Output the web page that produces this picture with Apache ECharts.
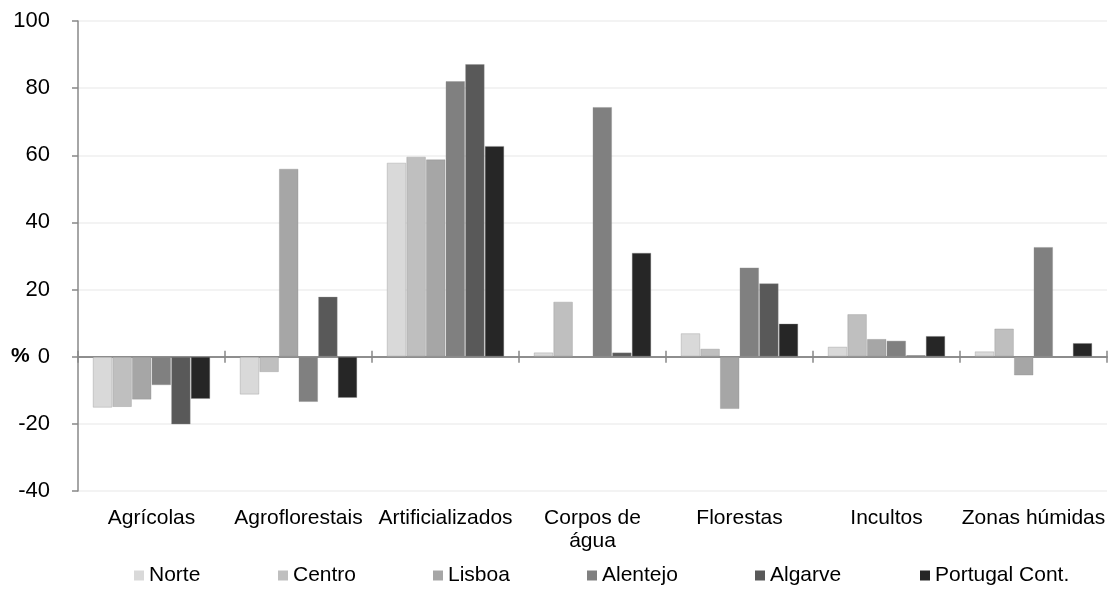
<!DOCTYPE html>
<html><head><meta charset="utf-8">
<script src="https://cdn.jsdelivr.net/npm/echarts@6/dist/echarts.min.js"></script>
<style>html,body{margin:0;padding:0;background:#fff}#c{width:1113px;height:594px}</style>
</head><body><div id="c"></div>
<script>
const categories = ['Agrícolas','Agroflorestais','Artificializados','Corpos de\nágua','Florestas','Incultos','Zonas húmidas'];
const seriesNames = ['Norte','Centro','Lisboa','Alentejo','Algarve','Portugal Cont.'];
const norte    = [-15.2, -11.3, 57.8,  1.3,   7.0, 3.0,  1.6];
const centro   = [-15.0,  -4.6, 59.6, 16.4,   2.4, 12.7, 8.4];
const lisboa   = [-12.8,  56.0, 58.8,  0.0, -15.6, 5.3, -5.6];
const alentejo = [ -8.5, -13.5, 82.1, 74.4,  26.6, 4.8, 32.7];
const algarve  = [-20.2,  17.9, 87.2,  1.3,  21.9, 0.5, -0.3];
const portugal = [-12.6, -12.3, 62.8, 31.0,   9.9, 6.2,  4.1];
const yTicks = [-40,-20,0,20,40,60,80,100];

const seriesData = [norte, centro, lisboa, alentejo, algarve, portugal];
const colors = ['#d9d9d9','#bfbfbf','#a6a6a6','#808080','#595959','#262626'];
const legendLeft = [134, 278, 433, 587, 755, 920];
const font = 'Liberation Sans, Arial, sans-serif';

const chart = echarts.init(document.getElementById('c'));
chart.setOption({
  animation:false,
  color: colors,
  grid:{left:78, right:6, top:21, bottom:103, containLabel:false, outerBoundsMode:'none'},
  legend: seriesNames.map((n,i)=>({
    data:[n], left:legendLeft[i], top:565, itemWidth:10, itemHeight:10, padding:0,
    icon:'rect', itemStyle:{borderWidth:0},
    textStyle:{fontFamily:font, fontSize:21, color:'#000'}
  })),
  xAxis:[{
    type:'category', data:categories, position:'bottom',
    axisLine:{show:false, onZero:false},
    axisTick:{show:false},
    axisLabel:{interval:0, margin:16, fontFamily:font, fontSize:21, color:'#000', lineHeight:23},
    splitLine:{show:false}
  },{
    type:'category', data:categories, position:'bottom',
    axisLine:{show:true, onZero:true, onZeroAxisIndex:0, lineStyle:{color:'#888', width:1.5}},
    axisTick:{show:true, interval:0, length:6, lineStyle:{color:'#888', width:1.5}},
    axisLabel:{show:false}, splitLine:{show:false}
  },{
    type:'category', data:categories, position:'top',
    axisLine:{show:true, onZero:true, onZeroAxisIndex:0, lineStyle:{color:'#888', width:1.5}},
    axisTick:{show:true, interval:0, length:6, lineStyle:{color:'#888', width:1.5}},
    axisLabel:{show:false}, splitLine:{show:false}
  }],
  yAxis:{
    type:'value', min:-40, max:100, interval:20,
    axisLine:{show:true, lineStyle:{color:'#888', width:1.5}},
    axisTick:{show:true, length:6, lineStyle:{color:'#888', width:1.5}},
    axisLabel:{margin:28, fontFamily:font, fontSize:22, color:'#000',
      formatter: v => yTicks.indexOf(v) >= 0 ? String(v) : ''},
    splitLine:{show:true, lineStyle:{color:'#efefef', width:1.5}}
  },
  graphic:[{type:'text', left:11, top:346, style:{text:'%', fontFamily:font, fontSize:21, fontWeight:'bold', fill:'#000'}}],
  series: seriesNames.map((n,i)=>({
    name:n, type:'bar', data:seriesData[i], xAxisIndex:1,
    barGap:'0%', barCategoryGap:'20%',
    itemStyle:{color:colors[i], borderColor:'rgba(140,140,140,0.35)', borderWidth:1}
  }))
});
</script></body></html>
